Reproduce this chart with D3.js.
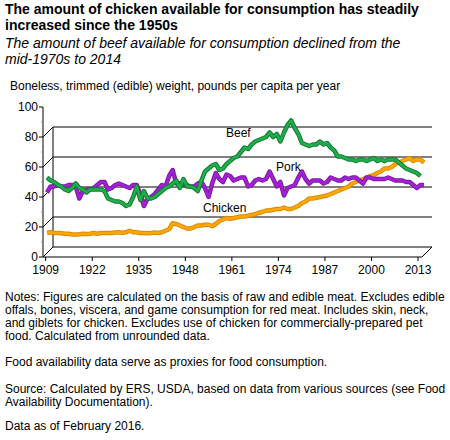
<!DOCTYPE html><html><head><meta charset="utf-8"><script src="https://cdn.jsdelivr.net/npm/d3@7"></script>
<style>body{margin:0;background:#fff}text{font-family:"Liberation Sans",Arial,sans-serif}</style></head><body><svg id="c" width="450" height="440"></svg><script>
const years=d3.range(1909,2015);
const beef=[49,47,46,44,43,41,40,42,45,42,41,39,41,41,41,41,40,35,34,33,33,32,30,31,36,43,34,40,35,35,36,38,40,42,43,45,47,42,48,43,43,42,40,47,53,55,57,58,54,55,58,60,62,63,66,69,68,71,73,74,75,76,79,76,78,73,79,84,87,82,78,72,71,70,71,71,73,71,72,69,67,63,63,62,61,61,60,61,61,60,61,62,60,61,60,61,61,61,59,57,55,54,53,52,50];
const pork=[39,43,43,44,43,43,44,44,43,35,40,41,41,42,44,46,46,41,42,44,45,44,43,42,44,44,38,30,35,36,38,41,44,43,50,54,45,45,44,44,43,43,45,46,42,36,45,52,48,46,51,50,47,48,49,49,43,44,47,48,47,48,53,48,43,46,37,42,43,44,49,53,48,45,47,47,47,45,46,49,48,47,47,49,48,49,49,47,45,49,49,48,48,48,48,49,48,47,47,47,46,46,44,42,44,44];
const chicken=[12,12.5,12,12,11.8,11.5,11.5,11,11,11.2,11.5,11.3,11.5,12,11.5,12,12,12,12,12.3,12.5,12.2,12.5,13.5,12.5,12.5,12,12,11.8,12,12.3,12,12.5,13.5,14.5,18.5,18,17,16,15,15,16,17,17,17.5,17.5,16.5,18,20,21,22,21.5,22,22.5,23,23,23.5,24,24.5,25.5,26,27,27,27.5,28,28,29,28,28,29,30,32,33,35,35,35.5,36,36.5,37,38,39,40,41,42,43,45,46,47,48,49,50,50.5,52,53,55,55,56,58,59,60,61,62,60,61,61,59,60,62];
const yTicks=[0,20,40,60,80,100];
const xTicks=[1909,1922,1935,1948,1961,1974,1987,2000,2013];
const svg=d3.select("#c");
const x0=43,x1=422,yb=257,yt=107,d=10;
const yF=d3.scaleLinear().domain([0,100]).range([yb,yt]);
const x=d3.scaleLinear().domain([1909,2014]).range([47,424]);
const yL=d3.scaleLinear().domain([0,100]).range([251,101]);
yTicks.slice(1,5).forEach(v=>{svg.append("line").attr("x1",x0+d).attr("x2",x1+d).attr("y1",yF(v)-d).attr("y2",yF(v)-d).attr("stroke","#000").attr("stroke-width",1);
 svg.append("line").attr("x1",x0).attr("x2",x0+d).attr("y1",yF(v)).attr("y2",yF(v)-d).attr("stroke","#000");});
svg.append("line").attr("x1",x0+d).attr("x2",x0+d).attr("y1",yF(0)-d).attr("y2",yF(80)-d).attr("stroke","#000");
svg.append("path").attr("d",`M${x0},${yb}L${x1},${yb}L${x1+d},${yb-d}L${x0+d},${yb-d}Z`).attr("fill","none").attr("stroke","#000");
svg.append("line").attr("x1",x0).attr("x2",x0).attr("y1",yb).attr("y2",yt).attr("stroke","#000");
yTicks.forEach(v=>{svg.append("line").attr("x1",x0-4).attr("x2",x0).attr("y1",yF(v)).attr("y2",yF(v)).attr("stroke","#000");
 svg.append("text").attr("x",x0-5).attr("y",yF(v)+4).attr("text-anchor","end").attr("font-size",12).text(v);});
d3.range(10,100,20).forEach(v=>svg.append("line").attr("x1",x0-2).attr("x2",x0).attr("y1",yF(v)).attr("y2",yF(v)).attr("stroke","#999"));
const xA=d3.scaleLinear().domain([1909,2013]).range([45.7,418]);
xTicks.forEach(t=>{svg.append("line").attr("x1",xA(t)).attr("x2",xA(t)).attr("y1",yb).attr("y2",yb+4).attr("stroke","#000");
 svg.append("text").attr("x",xA(t)).attr("y",yb+17).attr("text-anchor","middle").attr("font-size",12).text(t);});
const line=d3.line().x((v,i)=>x(years[i])).y(v=>yL(v));
[[chicken,"#ffa500","#d98a00"],[pork,"#a320d6","#7a1aa0"],[beef,"#1fae4b","#117a30"]].forEach(([s,c,o])=>{
 svg.append("path").attr("d",line(s)).attr("fill","none").attr("stroke",o).attr("stroke-width",4.5).attr("stroke-linejoin","round");
 svg.append("path").attr("d",line(s)).attr("fill","none").attr("stroke",c).attr("stroke-width",2.5).attr("stroke-linejoin","round");});
[["Beef",226,137],["Pork",276,171],["Chicken",203,212]].forEach(([t,a,b])=>svg.append("text").attr("x",a).attr("y",b).attr("font-size",12).text(t));
const T=(t,y,o={})=>svg.append("text").attr("x",o.x||5).attr("y",y).attr("font-size",o.s||12).attr("font-weight",o.b?"bold":null).attr("font-style",o.i?"italic":null).text(t);
T("The amount of chicken available for consumption has steadily",14,{s:14,b:1});
T("increased since the 1950s",30,{s:14,b:1});
T("The amount of beef available for consumption declined from the",48,{s:14,i:1});
T("mid-1970s to 2014",64,{s:14,i:1});
T("Boneless, trimmed (edible) weight, pounds per capita per year",90,{x:10});
T("Notes: Figures are calculated on the basis of raw and edible meat. Excludes edible",301);
T("offals, bones, viscera, and game consumption for red meat. Includes skin, neck,",314);
T("and giblets for chicken. Excludes use of chicken for commercially-prepared pet",327);
T("food. Calculated from unrounded data.",340);
T("Food availability data serve as proxies for food consumption.",366);
T("Source: Calculated by ERS, USDA, based on data from various sources (see Food",393);
T("Availability Documentation).",406);
T("Data as of February 2016.",430);
</script></body></html>
